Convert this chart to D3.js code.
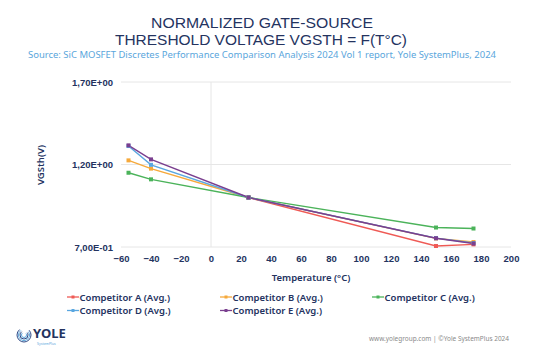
<!DOCTYPE html>
<html>
<head>
<meta charset="utf-8">
<script src="https://cdn.jsdelivr.net/npm/d3@7"></script>
<style>
  html, body { margin: 0; padding: 0; background: #fff; }
  svg { display: block; font-family: "Noto Sans", "Open Sans", sans-serif; }
</style>
</head>
<body>
<svg id="chart"></svg>
<script>
// temperatures (°C) where each competitor was measured
const temps = [-55, -40, 25, 150, 175];

// normalized VGSth per competitor, null where no point is drawn
const compA = [null, null, 1.0, 0.706, 0.716];
const compB = [1.225, 1.175, 1.0, 0.752, 0.730];
const compC = [1.150, 1.110, 1.0, 0.818, 0.812];
const compD = [1.312, 1.198, 1.0, 0.754, 0.724];
const compE = [1.316, 1.231, 1.0, 0.753, 0.721];

const seriesNames = [
  "Competitor A (Avg.)", "Competitor B (Avg.)", "Competitor C (Avg.)",
  "Competitor D (Avg.)", "Competitor E (Avg.)"
];
const seriesColors = ["#ef5a55", "#f6a93b", "#4bb35a", "#5aa7e0", "#7a3f8f"];

const xTicks = [-60, -40, -20, 0, 20, 40, 60, 80, 100, 120, 140, 160, 180, 200];
const yTicks = [0.7, 1.2, 1.7];
const yTickLabels = ["7,00E-01", "1,20E+00", "1,70E+00"];

const titleLines = ["NORMALIZED GATE-SOURCE", "THRESHOLD VOLTAGE VGSTH = F(T°C)"];

const width = 553, height = 349;
const navy = "#24335f";

const svg = d3.select("#chart")
  .attr("width", width)
  .attr("height", height)
  .attr("viewBox", [0, 0, width, height]);

// two-line title, each line stretched to its banner width
const titleWidths = [222, 292];
svg.append("g")
  .selectAll("text")
  .data(titleLines)
  .join("text")
    .attr("x", (d, i) => i ? 261 : 262)
    .attr("y", (d, i) => i ? 45 : 28)
    .attr("text-anchor", "middle")
    .attr("fill", navy)
    .attr("textLength", (d, i) => titleWidths[i])
    .attr("lengthAdjust", "spacingAndGlyphs")
    .style("font-family", "'Liberation Sans', Arial, sans-serif")
    .style("font-size", "15px")
    .text(d => d);

svg.append("text")
  .attr("x", 262).attr("y", 58)
  .attr("text-anchor", "middle")
  .attr("fill", "#5aa6dc")
  .attr("textLength", 468)
  .attr("lengthAdjust", "spacingAndGlyphs")
  .style("font-size", "9.5px")
  .text("Source: SiC MOSFET Discretes Performance Comparison Analysis 2024 Vol 1 report, Yole SystemPlus, 2024");

// scales
const x = d3.scaleLinear([-60, 200], [121, 511]);
const y = d3.scaleLinear([0.7, 1.7], [247, 82]);

// horizontal gridlines
svg.append("g")
  .selectAll("line")
  .data(yTicks)
  .join("line")
    .attr("x1", x(-60)).attr("x2", x(200))
    .attr("y1", d => y(d)).attr("y2", d => y(d))
    .attr("stroke", "#e6e6e6")
    .attr("stroke-width", 1);

// value axis crossing at 0 °C
svg.append("line")
  .attr("x1", x(0)).attr("x2", x(0))
  .attr("y1", y(1.7)).attr("y2", y(0.7))
  .attr("stroke", "#e6e6e6");

// y axis labels
const yAxis = d3.axisLeft(y)
  .tickValues(yTicks)
  .tickSize(0)
  .tickPadding(8)
  .tickFormat((d, i) => yTickLabels[i]);

svg.append("g")
  .attr("transform", `translate(${x(-60)},0)`)
  .call(yAxis)
  .call(g => g.select(".domain").remove())
  .call(g => g.selectAll("text")
    .attr("fill", navy)
    .style("font-size", "9.5px")
    .style("font-weight", 600)
    .style("font-family", "inherit"));

// x axis labels
const xAxis = d3.axisBottom(x)
  .tickValues(xTicks)
  .tickSize(0)
  .tickPadding(8)
  .tickFormat(d3.format("d"));

svg.append("g")
  .attr("transform", `translate(0,${y(0.7)})`)
  .call(xAxis)
  .call(g => g.select(".domain").remove())
  .call(g => g.selectAll("text")
    .attr("fill", navy)
    .style("font-size", "9.5px")
    .style("font-weight", 600)
    .style("font-family", "inherit"));

// axis titles
svg.append("text")
  .attr("transform", `translate(44,165) rotate(-90)`)
  .attr("text-anchor", "middle")
  .attr("fill", navy)
  .style("font-size", "9.5px")
  .style("font-weight", 600)
  .text("VGSth(V)");

svg.append("text")
  .attr("x", 311).attr("y", 281)
  .attr("text-anchor", "middle")
  .attr("fill", navy)
  .style("font-size", "9.5px")
  .style("font-weight", 600)
  .text("Temperature (°C)");

// series lines
const allSeries = [compA, compB, compC, compD, compE].map((vals, k) => ({
  name: seriesNames[k],
  color: seriesColors[k],
  points: temps.map((t, i) => ({ t, v: vals[i] })).filter(p => p.v !== null)
}));

const line = d3.line()
  .x(d => x(d.t))
  .y(d => y(d.v));

const plot = svg.append("g");
plot.selectAll("path")
  .data(allSeries)
  .join("path")
    .attr("fill", "none")
    .attr("stroke", d => d.color)
    .attr("stroke-width", 1.4)
    .attr("d", d => line(d.points));

plot.selectAll("g.markers")
  .data(allSeries)
  .join("g")
    .attr("class", "markers")
    .attr("fill", d => d.color)
  .selectAll("rect")
  .data(d => d.points)
  .join("rect")
    .attr("x", d => x(d.t) - 2)
    .attr("y", d => y(d.v) - 2)
    .attr("width", 4)
    .attr("height", 4);

// legend
const legendPos = [[67, 297], [220, 297], [372, 297], [67, 310.5], [220, 310.5]];
const legend = svg.append("g")
  .selectAll("g")
  .data(allSeries)
  .join("g")
    .attr("transform", (d, i) => `translate(${legendPos[i][0]},${legendPos[i][1]})`);

legend.append("line")
  .attr("x1", 0).attr("x2", 12)
  .attr("stroke", d => d.color)
  .attr("stroke-width", 1.3);
legend.append("rect")
  .attr("x", 4.5).attr("y", -1.5)
  .attr("width", 3).attr("height", 3)
  .attr("fill", d => d.color);
legend.append("text")
  .attr("x", 12.5).attr("y", 3.5)
  .attr("fill", navy)
  .style("font-size", "9.5px")
  .style("font-weight", 600)
  .text(d => d.name);

// logo
const logo = svg.append("g").attr("transform", "translate(24,335)");
[7, 5.5, 4, 2.5].forEach((r, i) => {
  logo.append("circle")
    .attr("r", r)
    .attr("fill", "none")
    .attr("stroke", i % 2 ? "#5aa6dc" : "#2f4a86")
    .attr("stroke-width", 1)
    .attr("stroke-dasharray", `${r * 4} ${r * 1.5}`);
});
svg.append("text")
  .attr("x", 33).attr("y", 338)
  .attr("fill", navy)
  .style("font-size", "13px")
  .style("font-weight", 700)
  .text("YOLE");
svg.append("text")
  .attr("x", 37).attr("y", 344.5)
  .attr("fill", "#5aa6dc")
  .style("font-size", "3.5px")
  .text("SystemPlus");

// footer
svg.append("text")
  .attr("x", 509).attr("y", 341)
  .attr("text-anchor", "end")
  .attr("fill", "#8a8a8a")
  .attr("textLength", 140)
  .attr("lengthAdjust", "spacingAndGlyphs")
  .style("font-size", "7px")
  .text("www.yolegroup.com | ©Yole SystemPlus 2024");
</script>
</body>
</html>
